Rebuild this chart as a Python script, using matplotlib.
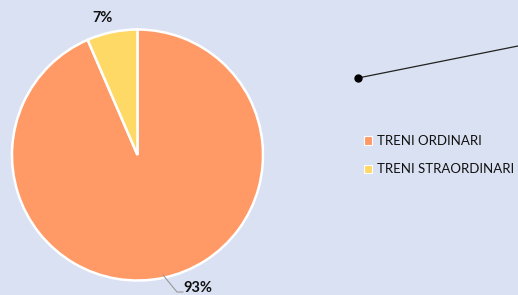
import matplotlib.pyplot as plt
from matplotlib.patches import Patch

categories = ["TRENI ORDINARI", "TRENI STRAORDINARI"]
values = [93.5, 6.5]
labels = ["93%", "7%"]
colors = ["#FF9966", "#FFD966"]
bg = "#DAE1F2"

plt.rcParams['font.family'] = ['Lato', 'DejaVu Sans']

fig = plt.figure(figsize=(5.18, 2.95), dpi=100)
fig.patch.set_facecolor(bg)
ax = fig.add_axes([0, 0, 1, 1])
ax.set_facecolor(bg)

cx, cy, r = 137.5, 140, 125.5
wedges, _ = ax.pie(values, colors=colors, startangle=90, counterclock=False,
                   center=(cx, cy), radius=r, frame=True,
                   wedgeprops=dict(edgecolor='white', linewidth=1.8))
ax.set_xlim(0, 518)
ax.set_ylim(0, 295)
ax.set_aspect('equal')
ax.axis('off')

# data labels
ax.text(103, 277, labels[1], ha='center', va='center', fontsize=10.5, fontweight='bold', color='#111111')
ax.text(198, 7, labels[0], ha='center', va='center', fontsize=10.5, fontweight='bold', color='#111111')
ax.plot([163, 177, 183], [20, 3, 3], color='#999999', lw=0.8)

# stray connector line with dot
ax.plot([358, 518], [217, 249], color='#222222', lw=0.9)
ax.plot([358], [217], 'o', color='black', ms=5)

handles = [Patch(facecolor=c, edgecolor='white', linewidth=0.8) for c in colors]
leg = ax.legend(handles, categories, loc='upper left', bbox_to_anchor=(359/518, 1 - 130/295),
                frameon=False, fontsize=9.5, handlelength=0.6, handleheight=0.6,
                handletextpad=0.4, labelspacing=1.22, borderaxespad=0)
for t in leg.get_texts():
    t.set_color('#111111')

fig.savefig('out.png', dpi=100, facecolor=bg)
